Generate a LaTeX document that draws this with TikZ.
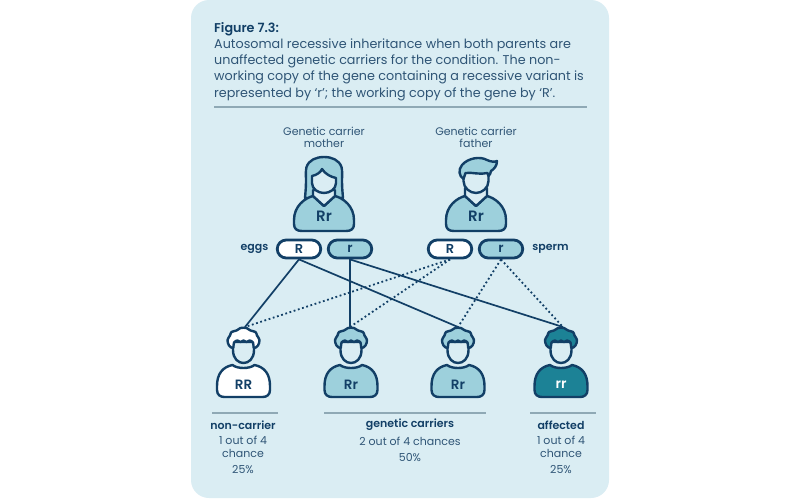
\documentclass[tikz,border=0pt]{standalone}
\usepackage{fontspec}
\setmainfont[BoldFont={Poppins SemiBold}]{Poppins}
\definecolor{panel}{HTML}{DAEDF3}
\definecolor{navy}{HTML}{123F66}
\definecolor{txt}{HTML}{2F5576}
\definecolor{lite}{HTML}{9DD0DC}
\definecolor{teal1}{HTML}{1C8296}
\definecolor{rulec}{HTML}{8FA9B5}
\tikzset{
  ink/.style={draw=navy,line width=2.4pt,line join=round,line cap=round},
  pill/.style={draw=navy,line width=2.8pt,rounded corners=9pt,minimum width=43.5pt,minimum height=18pt,inner sep=0pt,text=navy,font=\fontsize{13}{13}\selectfont\bfseries},
  genotype/.style={inner sep=0pt,font=\fontsize{13.5}{13.5}\selectfont\bfseries,text=navy},
  biggeno/.style={inner sep=0pt,font=\fontsize{15}{15}\selectfont\bfseries,text=navy},
  lbl/.style={inner sep=0pt,text=txt,font=\fontsize{11}{12.5}\selectfont},
  boldlbl/.style={inner sep=0pt,text=navy,font=\fontsize{11}{12.5}\selectfont\bfseries},
  para/.style={inner sep=0pt,anchor=west,text=txt,font=\fontsize{12.75}{12.75}\selectfont},
  sep/.style={draw=rulec,line width=1.1pt},
  link/.style={draw=navy,line width=1.7pt},
  dotlink/.style={draw=navy,line width=1.8pt,dash pattern=on 1.8pt off 2.6pt},
}
% child figure: #1 x, #2 fill
\newcommand{\childfig}[2]{%
\begin{scope}[shift={(#1,328)}]
  \path[ink,fill=#2] (-11,37) .. controls (-21,39) and (-26.5,46) .. (-26.5,58) -- (-26.5,62) .. controls (-26.5,67) and (-23,69) .. (-19,69) -- (19,69) .. controls (23,69) and (26.5,67) .. (26.5,62) -- (26.5,58) .. controls (26.5,46) and (21,39) .. (11,37) .. controls (6,41) and (-6,41) .. (-11,37) -- cycle;
  \path[ink,fill=panel] (-10.5,14) -- (-10.5,22) .. controls (-10.5,31) and (-5,35) .. (0,35) .. controls (5,35) and (10.5,31) .. (10.5,22) -- (10.5,14) -- cycle;
  \path[ink,fill=#2] plot[smooth cycle,tension=0.55] coordinates {(-10.5,20) (-14.5,17.5) (-16,12) (-13.5,7.5) (-12,4) (-7,2.5) (-3,0) (3,0) (7,2.5) (12,4) (13.5,7.5) (16,12) (14.5,17.5) (10.5,20) (9.5,14.5) (6,12.5) (3,14) (0,12.5) (-3,14) (-6,12.5) (-9.5,14.5)};
\end{scope}}
% parent body
\newcommand{\parentbody}[1]{%
\begin{scope}[shift={(#1,158)}]
  \path[ink,fill=lite] (-11,38) .. controls (-19,40) and (-30,48) .. (-30,62) -- (-30,66) .. controls (-30,71) and (-27,73) .. (-22,73) -- (22,73) .. controls (27,73) and (30,71) .. (30,66) -- (30,62) .. controls (30,48) and (19,40) .. (11,38) -- (0,48) -- cycle;
\end{scope}}
\begin{document}
\begin{tikzpicture}[x=1pt,y=-1pt]
\useasboundingbox (0,0) rectangle (800,498);
\fill[white] (0,0) rectangle (800,498);
\fill[panel,rounded corners=18pt] (191,0) rectangle (609,498);

\node[para,text=navy,font=\fontsize{12.75}{12.75}\selectfont\bfseries] (title) at (214,29) {Figure 7.3:};
\node[para] (l1) at (214,45.5) {Autosomal recessive inheritance when both parents are};
\node[para] (l2) at (214,61.5) {unaffected genetic carriers for the condition. The non-};
\node[para] (l3) at (214,77.5) {working copy of the gene containing a recessive variant is};
\node[para] (l4) at (214,94) {represented by ‘r’; the working copy of the gene by ‘R’.};
\draw[sep] (214,107) -- (587,107);

\node[lbl,align=center] (mlab) at (324,137.5) {Genetic carrier\\mother};
\node[lbl,align=center] (flab) at (476,137.5) {Genetic carrier\\father};

% pills
\node[pill,fill=white] (mR) at (299,249) {R};
\node[pill,fill=lite] (mr) at (350,249) {r};
\node[pill,fill=white] (fR) at (450,249) {R};
\node[pill,fill=lite] (fr) at (501,249) {r};
\node[boldlbl] (eggs) at (254.5,249) {eggs};
\node[boldlbl] (sperm) at (550.5,249) {sperm};

% head targets
\coordinate (c1) at (245,327);
\coordinate (c2) at (350,327);
\coordinate (c3) at (458,327);
\coordinate (c4) at (563,327);

\draw[link] (mR.south) -- (c1);
\draw[link] (mR.south) -- (c3);
\draw[link] (mr.south) -- (c2);
\draw[link] (mr.south) -- (c4);
\draw[dotlink] (fR.south) -- (c1);
\draw[dotlink] (fR.south) -- (c2);
\draw[dotlink] (fr.south) -- (c3);
\draw[dotlink] (fr.south) -- (c4);

% mother
\begin{scope}[shift={(324,157)}]
  \path[ink,fill=lite] (-18,24) .. controls (-18,18) and (-18.5,14) .. (-17.5,10) .. controls (-15,3) and (-8,0) .. (0,0) .. controls (8,0) and (15,3) .. (17.5,10) .. controls (18.5,14) and (18,18) .. (18,24) .. controls (18,30) and (18.5,35) .. (19,41) -- (-19,41) .. controls (-18.5,35) and (-18,30) .. (-18,24) -- cycle;
\end{scope}
\parentbody{324}
\begin{scope}[shift={(324,157)}]
  \path[ink,fill=panel] (-11,33) -- (-11,39) -- (0,49) -- (11,39) -- (11,33) -- cycle;
  \path[ink,fill=panel] (-12,19) .. controls (-7,18) and (-3,15) .. (-2,12) .. controls (1,17) and (7,20) .. (12,21) -- (12,26) .. controls (12,32) and (6,36) .. (0,36) .. controls (-6,36) and (-12,32) .. (-12,26) -- cycle;
\end{scope}
% father
\parentbody{476}
\begin{scope}[shift={(476,158)}]
  \path[ink,fill=panel] (-11,30) -- (-11,38) -- (0,48) -- (11,38) -- (11,30) -- cycle;
  \path[ink,fill=panel] (-12.5,13) -- (-12.5,23) .. controls (-12.5,30) and (-6,35) .. (0,35) .. controls (6,35) and (12.5,30) .. (12.5,23) -- (12.5,13) -- cycle;
  \path[ink,fill=lite] (-12.5,21) .. controls (-17,18) and (-18,12) .. (-14,7) .. controls (-8,0) and (4,-2) .. (11,2) .. controls (15,4) and (19,4) .. (21,3) .. controls (21,8) and (18,11) .. (15,13) .. controls (14.5,15) and (14,17) .. (12.5,18) -- (11.5,15) .. controls (4,17) and (-4,14) .. (-10.5,15) -- cycle;
\end{scope}
\node[biggeno] (mg) at (324,216) {Rr};
\node[biggeno] (fg) at (476,216) {Rr};

% children
\childfig{243.5}{white}
\childfig{351}{lite}
\childfig{458}{lite}
\childfig{561}{teal1}
\node[genotype] (g1) at (243.5,385) {RR};
\node[genotype] (g2) at (351,385) {Rr};
\node[genotype] (g3) at (458,385) {Rr};
\node[genotype,text=white] (g4) at (561,385) {rr};

% bottom
\draw[sep] (212,413) -- (278,413);
\draw[sep] (324,413) -- (486,413);
\draw[sep] (530,413) -- (596,413);
\node[boldlbl] (a1) at (243,425) {non-carrier};
\node[lbl,align=center] (a2) at (243,447) {1 out of 4\\chance};
\node[lbl] (a3) at (243,470) {25\%};
\node[boldlbl] (b1) at (410,425) {genetic carriers};
\node[lbl] (b2) at (410,441) {2 out of 4 chances};
\node[lbl] (b3) at (410,458) {50\%};
\node[boldlbl] (d1) at (561,425) {affected};
\node[lbl,align=center] (d2) at (561,447) {1 out of 4\\chance};
\node[lbl] (d3) at (561,470) {25\%};
\end{tikzpicture}
\end{document}
